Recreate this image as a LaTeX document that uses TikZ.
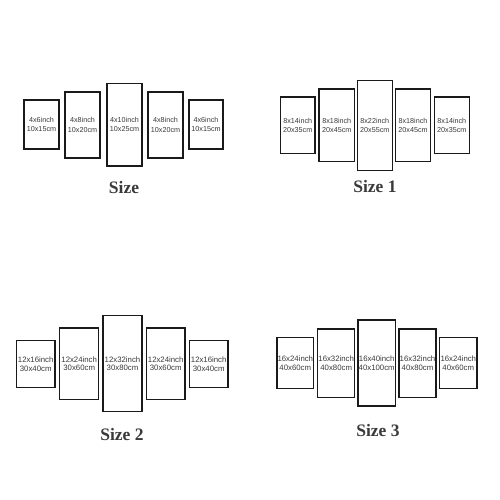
\documentclass[tikz,border=0pt]{standalone}
\usepackage{fontspec}
\setmainfont{Liberation Serif}
\newfontfamily\panelfont{Liberation Sans}
\definecolor{ink}{HTML}{1A1A1A}
\definecolor{labelink}{HTML}{3A3A3A}
\begin{document}
\begin{tikzpicture}[x=1pt,y=-1pt,
  panel/.style={draw=ink, line width=1.3pt, fill=white, inner sep=0pt, align=center,
    text=labelink, font=\panelfont\fontsize{7.8}{8.6}\selectfont},
  toppanel/.style={panel, font=\panelfont\fontsize{7.2}{9.2}\selectfont},
  sizelabel/.style={inner sep=0pt, text=labelink, font=\bfseries\fontsize{17.5}{19}\selectfont}]
\useasboundingbox (0,0) rectangle (500,500);
\fill[white] (0,0) rectangle (500,500);
% Size
\node[toppanel, line width=1.6pt, minimum width=35.5, minimum height=49.5] (a1) at (41.5,124.5) {4x6inch\\10x15cm};
\node[toppanel, line width=1.6pt, minimum width=35.5, minimum height=65.5] (a2) at (82.5,125) {4x8inch\\10x20cm};
\node[toppanel, line width=1.6pt, minimum width=35.5, minimum height=82.5] (a3) at (124.5,124.7) {4x10inch\\10x25cm};
\node[toppanel, line width=1.6pt, minimum width=35.5, minimum height=65.5] (a4) at (165.5,125) {4x8inch\\10x20cm};
\node[toppanel, line width=1.6pt, minimum width=34.5, minimum height=49.5] (a5) at (206,124.5) {4x6inch\\10x15cm};
\node[sizelabel] (la) at (124,188) {Size};
% Size 1
\node[toppanel, minimum width=34.5, minimum height=56.5] (b1) at (297.7,125.3) {8x14inch\\20x35cm};
\node[toppanel, minimum width=35.5, minimum height=72.5] (b2) at (336.8,125.2) {8x18inch\\20x45cm};
\node[toppanel, minimum width=34.8, minimum height=89.5] (b3) at (374.8,125.5) {8x22inch\\20x55cm};
\node[toppanel, minimum width=35.1, minimum height=72.5] (b4) at (413,125.2) {8x18inch\\20x45cm};
\node[toppanel, minimum width=34.8, minimum height=56.5] (b5) at (451.8,125.3) {8x14inch\\20x35cm};
\node[sizelabel] (lb) at (375,187) {Size 1};
% Size 2
\node[panel, minimum width=38.5, minimum height=46.8] (c1) at (35.7,364.2) {12x16inch\\30x40cm};
\node[panel, minimum width=38.8, minimum height=71.2] (c2) at (79.2,363.7) {12x24inch\\30x60cm};
\node[panel, minimum width=38.8, minimum height=95.8] (c3) at (122.5,363.7) {12x32inch\\30x80cm};
\node[panel, minimum width=38.5, minimum height=71.2] (c4) at (165.7,363.7) {12x24inch\\30x60cm};
\node[panel, minimum width=38.5, minimum height=46.8] (c5) at (208.7,364.2) {12x16inch\\30x40cm};
\node[sizelabel] (lc) at (122,435) {Size 2};
% Size 3
\node[panel, minimum width=36.5, minimum height=50.8] (d1) at (295.3,363.2) {16x24inch\\40x60cm};
\node[panel, minimum width=36.8, minimum height=68.5] (d2) at (336.2,363.3) {16x32inch\\40x80cm};
\node[panel, minimum width=37.2, minimum height=85.9] (d3) at (376.7,363) {16x40inch\\40x100cm};
\node[panel, minimum width=36.9, minimum height=68.5] (d4) at (417.5,363.3) {16x32inch\\40x80cm};
\node[panel, minimum width=37.2, minimum height=50.8] (d5) at (458.3,363.2) {16x24inch\\40x60cm};
\node[sizelabel] (ld) at (378,431) {Size 3};
\end{tikzpicture}
\end{document}
